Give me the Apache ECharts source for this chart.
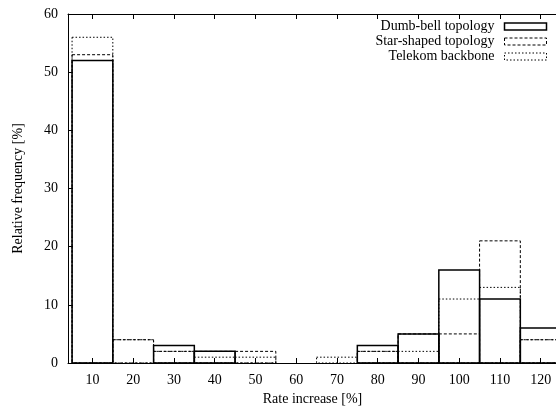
<!DOCTYPE html>
<html>
<head>
<meta charset="utf-8">
<script src="https://cdn.jsdelivr.net/npm/echarts@6/dist/echarts.min.js"></script>
<style>html,body{margin:0;padding:0;background:#fff}#c{width:556px;height:408px}</style>
</head>
<body>
<div id="c"></div>
<script>
var categories = [10, 20, 30, 40, 50, 60, 70, 80, 90, 100, 110, 120];
var dumbbell = [52, 0, 3, 2, 0, 0, 0, 3, 5, 16, 11, 6];
var star = [53, 4, 2, 2, 2, 0, 0, 2, 5, 5, 21, 4];
var telekom = [56, 4, 2, 1, 1, 0, 1, 2, 2, 11, 13, 4];
var yTicks = [0, 10, 20, 30, 40, 50, 60];
var seriesNames = ['Dumb-bell topology', 'Star-shaped topology', 'Telekom backbone'];

var FONT = 'Liberation Serif';
var chart = echarts.init(document.getElementById('c'), null, {renderer: 'canvas'});

function makeSeries(name, values, width, dash) {
  return {
    name: name,
    type: 'custom',
    clip: true,
    data: categories.map(function (c, i) { return [c, values[i]]; }),
    itemStyle: {color: 'none', borderColor: '#000'},
    renderItem: function (params, api) {
      var x = api.value(0), y = api.value(1);
      if (!y) return null;
      var p0 = api.coord([x - 5, y]);
      var p1 = api.coord([x + 5, 0]);
      return {
        type: 'rect',
        shape: {x: p0[0], y: p0[1], width: p1[0] - p0[0], height: p1[1] - p0[1]},
        style: {fill: null, stroke: '#000', lineWidth: width, lineDash: dash}
      };
    }
  };
}

var option = {
  animation: false,
  backgroundColor: '#fff',
  grid: {left: 68, top: 14, right: -1, bottom: 45, containLabel: false, outerBoundsMode: 'none'},
  legend: {
    orient: 'vertical',
    right: 7,
    top: 19,
    padding: 0,
    align: 'right',
    itemWidth: 42,
    itemHeight: 7,
    itemGap: 0,
    textStyle: {fontFamily: FONT, fontSize: 14, lineHeight: 15, color: '#000', padding: [0, 5, 0, 0]},
    data: [
      {name: seriesNames[0], icon: 'rect', itemStyle: {color: 'none', borderColor: '#000', borderWidth: 1.5, borderType: 'solid'}},
      {name: seriesNames[1], icon: 'rect', itemStyle: {color: 'none', borderColor: '#000', borderWidth: 1, borderType: [3, 2]}},
      {name: seriesNames[2], icon: 'rect', itemStyle: {color: 'none', borderColor: '#000', borderWidth: 1, borderType: [1.5, 2]}}
    ]
  },
  xAxis: [{
    type: 'value', min: 4, max: 124, position: 'bottom',
    name: 'Rate increase [%]', nameLocation: 'middle', nameGap: 28,
    nameTextStyle: {fontFamily: FONT, fontSize: 14, color: '#000'},
    axisLine: {show: true, lineStyle: {color: '#000', width: 1}},
    axisTick: {show: true, inside: true, length: 5, customValues: categories, lineStyle: {color: '#000'}},
    axisLabel: {fontFamily: FONT, fontSize: 14, color: '#000', margin: 10, customValues: categories},
    splitLine: {show: false}
  }, {
    type: 'value', min: 4, max: 124, position: 'top',
    axisLine: {show: true, lineStyle: {color: '#000', width: 1}},
    axisTick: {show: true, inside: true, length: 5, customValues: categories, lineStyle: {color: '#000'}},
    axisLabel: {show: false},
    splitLine: {show: false}
  }],
  yAxis: {
    type: 'value', min: 0, max: 60, interval: 10,
    name: 'Relative frequency [%]', nameLocation: 'middle', nameGap: 43,
    nameTextStyle: {fontFamily: FONT, fontSize: 14, color: '#000'},
    axisLine: {show: true, lineStyle: {color: '#000', width: 1}},
    axisTick: {show: true, inside: true, length: 5, lineStyle: {color: '#000'}},
    axisLabel: {fontFamily: FONT, fontSize: 14, color: '#000', margin: 10, customValues: yTicks},
    splitLine: {show: false}
  },
  series: [
    makeSeries(seriesNames[0], dumbbell, 1.5, null),
    makeSeries(seriesNames[1], star, 1, [3, 2]),
    makeSeries(seriesNames[2], telekom, 1, [1.5, 2])
  ]
};
chart.setOption(option);
</script>
</body>
</html>
